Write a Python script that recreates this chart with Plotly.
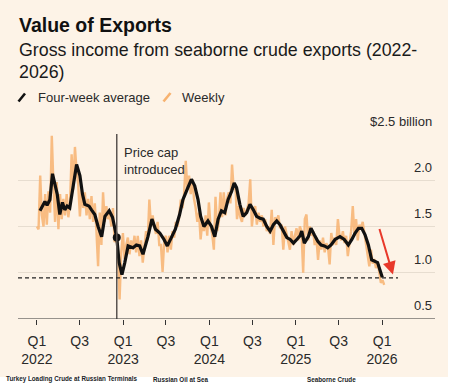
import pandas as pd
import plotly.graph_objects as go

# ---------------- data ----------------
weekly_start = "2022-01-01"
weekly_values = [
    1.50, 1.47, 2.05, 1.62, 1.50, 1.85, 1.52, 1.88, 1.65, 2.48,
    1.95, 1.55, 1.98, 1.47, 1.85, 1.58, 1.80, 1.62, 1.85, 1.60,
    1.75, 2.28, 1.90, 2.36, 2.10, 1.95, 1.61, 1.90, 1.70, 1.87,
    1.62, 1.80, 1.58, 1.83, 1.55, 1.75, 1.45, 1.07, 1.65, 1.30,
    1.87, 1.55, 1.72, 1.58, 1.65, 1.50, 1.70, 1.33, 1.40, 1.25,
    0.71, 1.22, 1.43, 1.15, 1.30, 1.38, 1.20, 1.35, 1.25, 1.40,
    1.22, 1.40, 1.18, 1.35, 1.11, 1.30, 1.45, 1.35, 1.79, 1.50,
    1.62, 1.50, 1.42, 1.55, 1.30, 1.30, 1.01, 1.35, 1.40, 1.22,
    1.40, 1.25, 1.45, 1.38, 1.55, 1.50, 1.60, 1.79, 1.70, 1.85,
    2.21, 1.90, 2.05, 1.85, 2.01, 1.80, 1.70, 1.55, 1.65, 1.36,
    1.55, 1.45, 1.62, 1.40, 1.76, 1.50, 1.42, 1.25, 1.82, 1.45,
    1.55, 1.87, 1.60, 1.87, 1.62, 1.80, 1.87, 1.75, 2.17, 1.90,
    1.95, 1.58, 1.72, 1.60, 1.55, 1.70, 1.62, 1.68, 1.75, 2.01,
    1.50, 1.68, 1.72, 1.52, 1.65, 1.55, 1.62, 1.50, 1.58, 1.45,
    1.50, 1.42, 1.68, 1.30, 1.60, 1.55, 1.62, 1.48, 1.52, 1.25,
    1.50, 1.42, 1.35, 1.25, 1.45, 1.30, 1.40, 1.48, 1.35, 1.50,
    1.45, 1.00, 1.58, 1.63, 1.35, 1.50, 1.40, 1.45, 1.30, 1.38,
    1.14, 1.35, 1.25, 1.38, 1.22, 1.32, 1.28, 1.09, 1.43, 1.30,
    1.38, 1.30, 1.58, 1.40, 1.35, 1.45, 1.32, 1.40, 1.18, 1.35,
    1.45, 1.72, 1.40, 1.58, 1.35, 1.52, 1.48, 1.55, 1.42, 1.30,
    1.20, 1.07, 1.25, 1.10, 1.15, 1.05, 1.12, 0.98, 0.89, 0.92, 0.87,
]

avg_dates = [
    "2022-01-14", "2022-02-04", "2022-02-13", "2022-02-25", "2022-03-08", "2022-03-18",
    "2022-03-28", "2022-04-08", "2022-04-19", "2022-04-29", "2022-05-09", "2022-05-20",
    "2022-06-03", "2022-06-18", "2022-07-02", "2022-07-13", "2022-07-23", "2022-08-10",
    "2022-08-20", "2022-09-03", "2022-09-17", "2022-10-02", "2022-10-16", "2022-11-03",
    "2022-11-17", "2022-12-05", "2022-12-15", "2022-12-27", "2023-01-08", "2023-01-22",
    "2023-02-12", "2023-02-26", "2023-03-12", "2023-03-26", "2023-04-16", "2023-05-03",
    "2023-05-18", "2023-06-05", "2023-06-23", "2023-07-07", "2023-07-24", "2023-08-10",
    "2023-08-28", "2023-09-11", "2023-10-02", "2023-10-17", "2023-10-31", "2023-11-14",
    "2023-11-25", "2023-12-09", "2023-12-26", "2024-01-10", "2024-01-24", "2024-02-07",
    "2024-02-21", "2024-03-06", "2024-03-20", "2024-04-04", "2024-04-15", "2024-04-25",
    "2024-05-09", "2024-05-23", "2024-06-07", "2024-06-21", "2024-07-05", "2024-07-19",
    "2024-08-02", "2024-08-16", "2024-08-31", "2024-09-14", "2024-09-28", "2024-10-12",
    "2024-10-26", "2024-11-09", "2024-11-24", "2024-12-08", "2024-12-22", "2025-01-05",
    "2025-01-19", "2025-01-26", "2025-02-06", "2025-02-23", "2025-03-06", "2025-03-20",
    "2025-04-04", "2025-04-18", "2025-05-02", "2025-05-16", "2025-05-30", "2025-06-16",
    "2025-07-07", "2025-07-25", "2025-08-11", "2025-08-26", "2025-09-09", "2025-09-23",
    "2025-10-07", "2025-10-21", "2025-11-04", "2025-11-18", "2025-12-02", "2025-12-13",
    "2025-12-23", "2026-01-02",
]
avg_values = [
    1.67, 1.77, 1.73, 1.79, 2.07, 1.94,
    1.85, 1.63, 1.76, 1.68, 1.72, 1.70,
    1.94, 2.17, 2.05, 1.85, 1.74, 1.72,
    1.68, 1.63, 1.50, 1.39, 1.61, 1.67,
    1.60, 1.38, 1.11, 0.98, 1.11, 1.29,
    1.27, 1.30, 1.29, 1.20, 1.39, 1.58,
    1.47, 1.43, 1.36, 1.29, 1.38, 1.47,
    1.63, 1.79, 1.92, 2.01, 1.94, 1.79,
    1.61, 1.50, 1.56, 1.50, 1.39, 1.58,
    1.67, 1.65, 1.79, 1.88, 1.97, 1.92,
    1.74, 1.61, 1.65, 1.74, 1.68, 1.61,
    1.59, 1.58, 1.50, 1.45, 1.52, 1.56,
    1.52, 1.45, 1.38, 1.36, 1.32, 1.36,
    1.40, 1.45, 1.32, 1.39, 1.48, 1.41,
    1.34, 1.30, 1.29, 1.27, 1.30, 1.36,
    1.39, 1.36, 1.30, 1.36, 1.43, 1.48,
    1.48, 1.41, 1.30, 1.14, 1.12, 1.11,
    1.03, 0.95,
]

price_cap_date = "2022-12-05"
price_cap_value = 1.38
threshold_value = 0.945
threshold_end = "2026-03-09"
arrow_start = ("2025-12-19", 1.49)
arrow_end = ("2026-02-16", 0.98)

tick_dates = ["2022-01-01", "2022-07-01", "2023-01-01", "2023-07-01", "2024-01-01",
              "2024-07-01", "2025-01-01", "2025-07-01", "2026-01-01"]
tick_labels = ["Q1<br>2022", "Q3", "Q1<br>2023", "Q3", "Q1<br>2024", "Q3",
               "Q1<br>2025", "Q3", "Q1<br>2026"]
y_ticks = [0.5, 1.0, 1.5, 2.0, 2.5]
y_tick_labels = ["0.5", "1.0", "1.5", "2.0", "$2.5 billion"]

# ---------------- styling ----------------
FONT = "Liberation Sans, Arial, sans-serif"
BG = "#fdf3e7"
GRID = "#e7ddd0"
ORANGE = "rgba(247,178,112,0.85)"
TXT = "#2a2a2a"

W, H = 453, 384
ML, MR, MT, MB = 18, 18, 134, 65
PW, PH = W - ML - MR, H - MT - MB


def px(x):
    return (x - ML) / PW


def py(y):
    return (H - MB - y) / PH


weekly_dates = pd.date_range(weekly_start, periods=len(weekly_values), freq="7D")

fig = go.Figure()
fig.add_trace(go.Scatter(x=weekly_dates, y=weekly_values, mode="lines",
                         line=dict(color=ORANGE, width=2.4), hoverinfo="skip",
                         showlegend=False))
fig.add_trace(go.Scatter(x=avg_dates, y=avg_values, mode="lines",
                         line=dict(color="#111111", width=3.2), showlegend=False))
fig.add_trace(go.Scatter(x=[price_cap_date], y=[price_cap_value], mode="markers",
                         marker=dict(color="#111111", size=8), showlegend=False))

shapes = [
    # beige card
    dict(type="rect", xref="paper", yref="paper", x0=px(0), x1=px(448), y0=py(377), y1=py(0),
         fillcolor=BG, line=dict(width=0), layer="below"),
    # price cap line
    dict(type="line", xref="x", yref="y", x0=price_cap_date, x1=price_cap_date, y0=0.5, y1=2.5,
         line=dict(color="#5a5350", width=1.5)),
    # threshold
    dict(type="line", xref="paper", yref="y", x0=0, x1=px(398), y0=threshold_value,
         y1=threshold_value, line=dict(color="#222", width=1.3, dash="4px,3px")),
    # legend swatches
    dict(type="line", xref="paper", yref="paper", x0=px(18.5), y0=py(101.5), x1=px(25), y1=py(93.5),
         line=dict(color="#111", width=2.6)),
    dict(type="line", xref="paper", yref="paper", x0=px(163.5), y0=py(101.5), x1=px(170.5), y1=py(93),
         line=dict(color="#f7b270", width=2.6)),
]

annotations = [
    dict(text="<b>Value of Exports</b>", x=px(17), y=py(25), xref="paper", yref="paper",
         xanchor="left", yanchor="middle", showarrow=False,
         font=dict(size=19.5, color="#111", family=FONT)),
    dict(text="Gross income from seaborne crude exports (2022-", x=px(17), y=py(50),
         xref="paper", yref="paper", xanchor="left", yanchor="middle", showarrow=False,
         font=dict(size=17.8, color="#1a1a1a", family=FONT)),
    dict(text="2026)", x=px(17), y=py(72), xref="paper", yref="paper", xanchor="left",
         yanchor="middle", showarrow=False, font=dict(size=17.8, color="#1a1a1a", family=FONT)),
    dict(text="Four-week average", x=px(36), y=py(97), xref="paper", yref="paper",
         xanchor="left", yanchor="middle", showarrow=False,
         font=dict(size=13, color=TXT, family=FONT)),
    dict(text="Weekly", x=px(180), y=py(97), xref="paper", yref="paper",
         xanchor="left", yanchor="middle", showarrow=False,
         font=dict(size=13, color=TXT, family=FONT)),
    dict(text="Price cap<br>introduced", x=px(122), y=py(161), xref="paper", yref="paper",
         xanchor="left", yanchor="middle", align="left", showarrow=False,
         font=dict(size=13, color=TXT, family=FONT)),
    dict(x=arrow_end[0], y=arrow_end[1], ax=arrow_start[0], ay=arrow_start[1],
         xref="x", yref="y", axref="x", ayref="y", text="", showarrow=True,
         arrowhead=2, arrowsize=1.3, arrowwidth=2, arrowcolor="#e8392b"),
]
for v, lab in zip(y_ticks, y_tick_labels):
    annotations.append(dict(text=lab, x=px(434), y=v, xref="paper", yref="y",
                            xanchor="right", yanchor="middle", yshift=14 if v == 0.5 else 13,
                            showarrow=False, font=dict(size=13, color=TXT, family=FONT)))

# bottom strip captions from neighbouring cards (cut off in the reference)
for txt, x in [("Turkey Loading Crude at Russian Terminals", 5), ("Russian Oil at Sea", 152),
               ("Seaborne Crude", 306)]:
    annotations.append(dict(text="<b>" + txt + "</b>", x=px(x), y=py(384), xref="paper",
                            yref="paper", xanchor="left", yanchor="bottom", showarrow=False,
                            borderpad=0, font=dict(size=6.3, color="#222", family=FONT)))

fig.update_layout(
    width=W, height=H,
    margin=dict(l=ML, r=MR, t=MT, b=MB),
    paper_bgcolor="white", plot_bgcolor="rgba(0,0,0,0)",
    font=dict(family=FONT, color=TXT, size=13),
    shapes=shapes, annotations=annotations, showlegend=False,
)
fig.update_xaxes(range=["2021-10-13", "2026-08-13"], tickvals=tick_dates, ticktext=tick_labels,
                 showgrid=False, zeroline=False, showline=False, ticks="outside", ticklen=5,
                 tickwidth=1, tickcolor="#333", tickfont=dict(size=14, color=TXT, family=FONT),
                 ticklabelstandoff=4)
fig.update_yaxes(range=[0.5, 2.5], tickvals=[1.0, 1.5, 2.0, 2.5], showticklabels=False,
                 showgrid=True, gridcolor=GRID, gridwidth=1, zeroline=False, showline=False,
                 fixedrange=True)
# baseline axis line at 0.5
fig.add_shape(type="line", xref="paper", yref="y", x0=0, x1=1, y0=0.5, y1=0.5,
              line=dict(color="#333", width=1.2))

fig.write_html("out.html", config={"displayModeBar": False},
               post_script="document.body.style.margin='0px';")
